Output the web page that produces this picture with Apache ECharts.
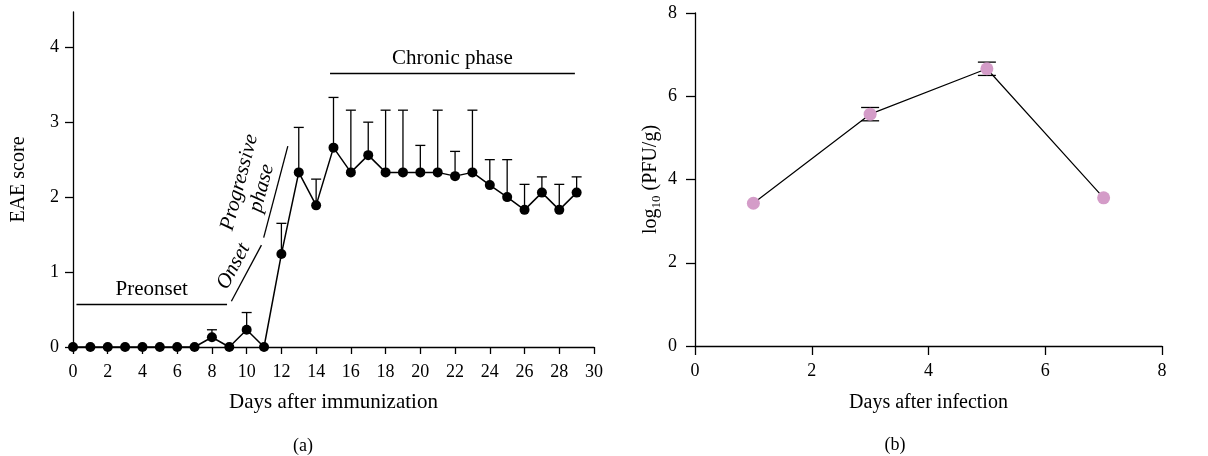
<!DOCTYPE html>
<html>
<head>
<meta charset="utf-8">
<title>EAE score and virus titer</title>
<script src="https://cdn.jsdelivr.net/npm/echarts@6/dist/echarts.min.js"></script>
<style>
html, body { margin: 0; padding: 0; background: #fff; }
#chart { width: 1208px; height: 456px; }
</style>
</head>
<body>
<div id="chart"></div>
<script>
// (a) EAE clinical score, mean + SEM (upper bar only)
const eaeDays = [0, 1, 2, 3, 4, 5, 6, 7, 8, 9, 10, 11, 12, 13, 14, 15, 16, 17, 18, 19, 20, 21, 22, 23, 24, 25, 26, 27, 28, 29]
const eaeMean = [0, 0, 0, 0, 0, 0, 0, 0, 0.13, 0, 0.23, 0, 1.24, 2.33, 1.89, 2.66, 2.33, 2.56, 2.33, 2.33, 2.33, 2.33, 2.28, 2.33, 2.16, 2.0, 1.83, 2.06, 1.83, 2.06]
const eaeSem = [0, 0, 0, 0, 0, 0, 0, 0, 0.10, 0, 0.23, 0, 0.41, 0.60, 0.35, 0.67, 0.83, 0.44, 0.83, 0.83, 0.36, 0.83, 0.33, 0.83, 0.34, 0.50, 0.34, 0.21, 0.34, 0.21]
const eaeTicks = [0, 1, 2, 3, 4]

// phase annotations (data coordinates of each bracket line)
const phaseNames = ['Preonset', 'Onset', 'Progressive\nphase', 'Chronic phase']
const phaseItalic = [false, true, true, false]
const phaseStart = [[0.2, 0.57], [9.12, 0.61], [10.98, 1.46], [14.8, 3.65]]
const phaseEnd = [[8.87, 0.57], [10.85, 1.36], [12.37, 2.68], [28.9, 3.65]]

// (b) virus titer, log10 PFU/g, mean ± SEM
const virusDays = [1, 3, 5, 7]
const virusTiter = [3.43, 5.57, 6.66, 3.56]
const virusSem = [0, 0.16, 0.16, 0]

const FONT = 'Liberation Serif'
const textBase = { fontFamily: FONT, color: '#000' }

function errorBars(capHalf, twoSided) {
  return function (params, api) {
    const x = api.value(0)
    const top = api.coord([x, api.value(2)])
    const bottom = api.coord([x, api.value(1)])
    const st = { stroke: '#000', lineWidth: 1.3 }
    const children = [
      { type: 'line', shape: { x1: top[0], y1: top[1], x2: bottom[0], y2: bottom[1] }, style: st },
      { type: 'line', shape: { x1: top[0] - capHalf, y1: top[1], x2: top[0] + capHalf, y2: top[1] }, style: st },
    ]
    if (twoSided) {
      children.push({ type: 'line', shape: { x1: bottom[0] - capHalf, y1: bottom[1], x2: bottom[0] + capHalf, y2: bottom[1] }, style: st })
    }
    return { type: 'group', children: children }
  }
}

const eaeErr = []
eaeDays.forEach((d, i) => {
  if (eaeSem[i] > 0) eaeErr.push([d, eaeMean[i], eaeMean[i] + eaeSem[i]])
})
const virusErr = []
virusDays.forEach((d, i) => {
  if (virusSem[i] > 0) virusErr.push([d, virusTiter[i] - virusSem[i], virusTiter[i] + virusSem[i]])
})

const axisLine = { lineStyle: { color: '#000', width: 1.3 } }

const myChart = echarts.init(document.getElementById('chart'))
myChart.setOption({
  animation: false,
  grid: [
    { left: 73, right: 614, top: 12, bottom: 109 },
    { left: 695, right: 46, top: 13, bottom: 110 },
  ],
  xAxis: [
    {
      type: 'value', gridIndex: 0, min: 0, max: 30, interval: 2,
      axisLine: axisLine,
      axisTick: { length: 7, lineStyle: { color: '#000', width: 1.3 } },
      axisLabel: Object.assign({ fontSize: 18, margin: 16 }, textBase),
      splitLine: { show: false },
      name: 'Days after immunization', nameLocation: 'middle', nameGap: 45,
      nameTextStyle: Object.assign({ fontSize: 21 }, textBase),
    },
    {
      type: 'value', gridIndex: 1, min: 0, max: 8, interval: 2,
      axisLine: axisLine,
      axisTick: { length: 9, lineStyle: { color: '#000', width: 1.3 } },
      axisLabel: Object.assign({ fontSize: 18, margin: 16 }, textBase),
      splitLine: { show: false },
      name: 'Days after infection', nameLocation: 'middle', nameGap: 47,
      nameTextStyle: Object.assign({ fontSize: 20 }, textBase),
    },
  ],
  yAxis: [
    {
      type: 'value', gridIndex: 0, min: 0, max: 4.47,
      axisLine: Object.assign({ show: true }, axisLine),
      axisTick: { show: true, length: 8, customValues: eaeTicks, lineStyle: { color: '#000', width: 1.3 } },
      axisLabel: Object.assign({ fontSize: 18, margin: 14, customValues: eaeTicks }, textBase),
      splitLine: { show: false },
      name: 'EAE score', nameLocation: 'middle', nameGap: 44,
      nameTextStyle: Object.assign({ fontSize: 20 }, textBase),
    },
    {
      type: 'value', gridIndex: 1, min: 0, max: 8, interval: 2,
      axisLine: Object.assign({ show: true }, axisLine),
      axisTick: { show: true, length: 9, lineStyle: { color: '#000', width: 1.3 } },
      axisLabel: Object.assign({ fontSize: 18, margin: 18 }, textBase),
      splitLine: { show: false },
      name: '{n|log}{s|10}{n| (PFU/g)}', nameLocation: 'middle', nameGap: 32,
      nameTextStyle: Object.assign({
        fontSize: 20,
        rich: {
          n: { fontFamily: FONT, fontSize: 20, lineHeight: 24, color: '#000' },
          s: { fontFamily: FONT, fontSize: 13, verticalAlign: 'bottom', color: '#000' },
        },
      }, textBase),
    },
  ],
  graphic: [
    { type: 'text', x: 303, y: 446, style: { text: '(a)', fontFamily: FONT, fontSize: 18, fill: '#000', textAlign: 'center', textVerticalAlign: 'middle', align: 'center', verticalAlign: 'middle' } },
    { type: 'text', x: 895, y: 445, style: { text: '(b)', fontFamily: FONT, fontSize: 18, fill: '#000', textAlign: 'center', textVerticalAlign: 'middle', align: 'center', verticalAlign: 'middle' } },
  ],
  series: [
    {
      type: 'custom', xAxisIndex: 0, yAxisIndex: 0, z: 1,
      renderItem: errorBars(5, false),
      encode: { x: 0, y: [1, 2] },
      data: eaeErr,
    },
    {
      name: 'EAE score', type: 'line', xAxisIndex: 0, yAxisIndex: 0, z: 2,
      symbol: 'circle', symbolSize: 10, showAllSymbol: true,
      itemStyle: { color: '#000' },
      lineStyle: { color: '#000', width: 1.5 },
      data: eaeDays.map((d, i) => [d, eaeMean[i]]),
      markLine: {
        silent: true, symbol: 'none',
        lineStyle: { color: '#000', width: 1.3, type: 'solid' },
        label: Object.assign({ show: true, position: 'insideMiddleTop', distance: 3, fontSize: 21, lineHeight: 23, formatter: (p) => p.name }, textBase),
        data: phaseNames.map((n, i) => [
          { name: n, coord: phaseStart[i], label: { fontStyle: phaseItalic[i] ? 'italic' : 'normal' } },
          { coord: phaseEnd[i] },
        ]),
      },
    },
    {
      type: 'custom', xAxisIndex: 1, yAxisIndex: 1, z: 1,
      renderItem: errorBars(9, true),
      encode: { x: 0, y: [1, 2] },
      data: virusErr,
    },
    {
      name: 'Virus titer', type: 'line', xAxisIndex: 1, yAxisIndex: 1, z: 2,
      symbol: 'circle', symbolSize: 13,
      itemStyle: { color: '#d49cc8' },
      lineStyle: { color: '#000', width: 1.2 },
      data: virusDays.map((d, i) => [d, virusTiter[i]]),
    },
  ],
})
</script>
</body>
</html>
